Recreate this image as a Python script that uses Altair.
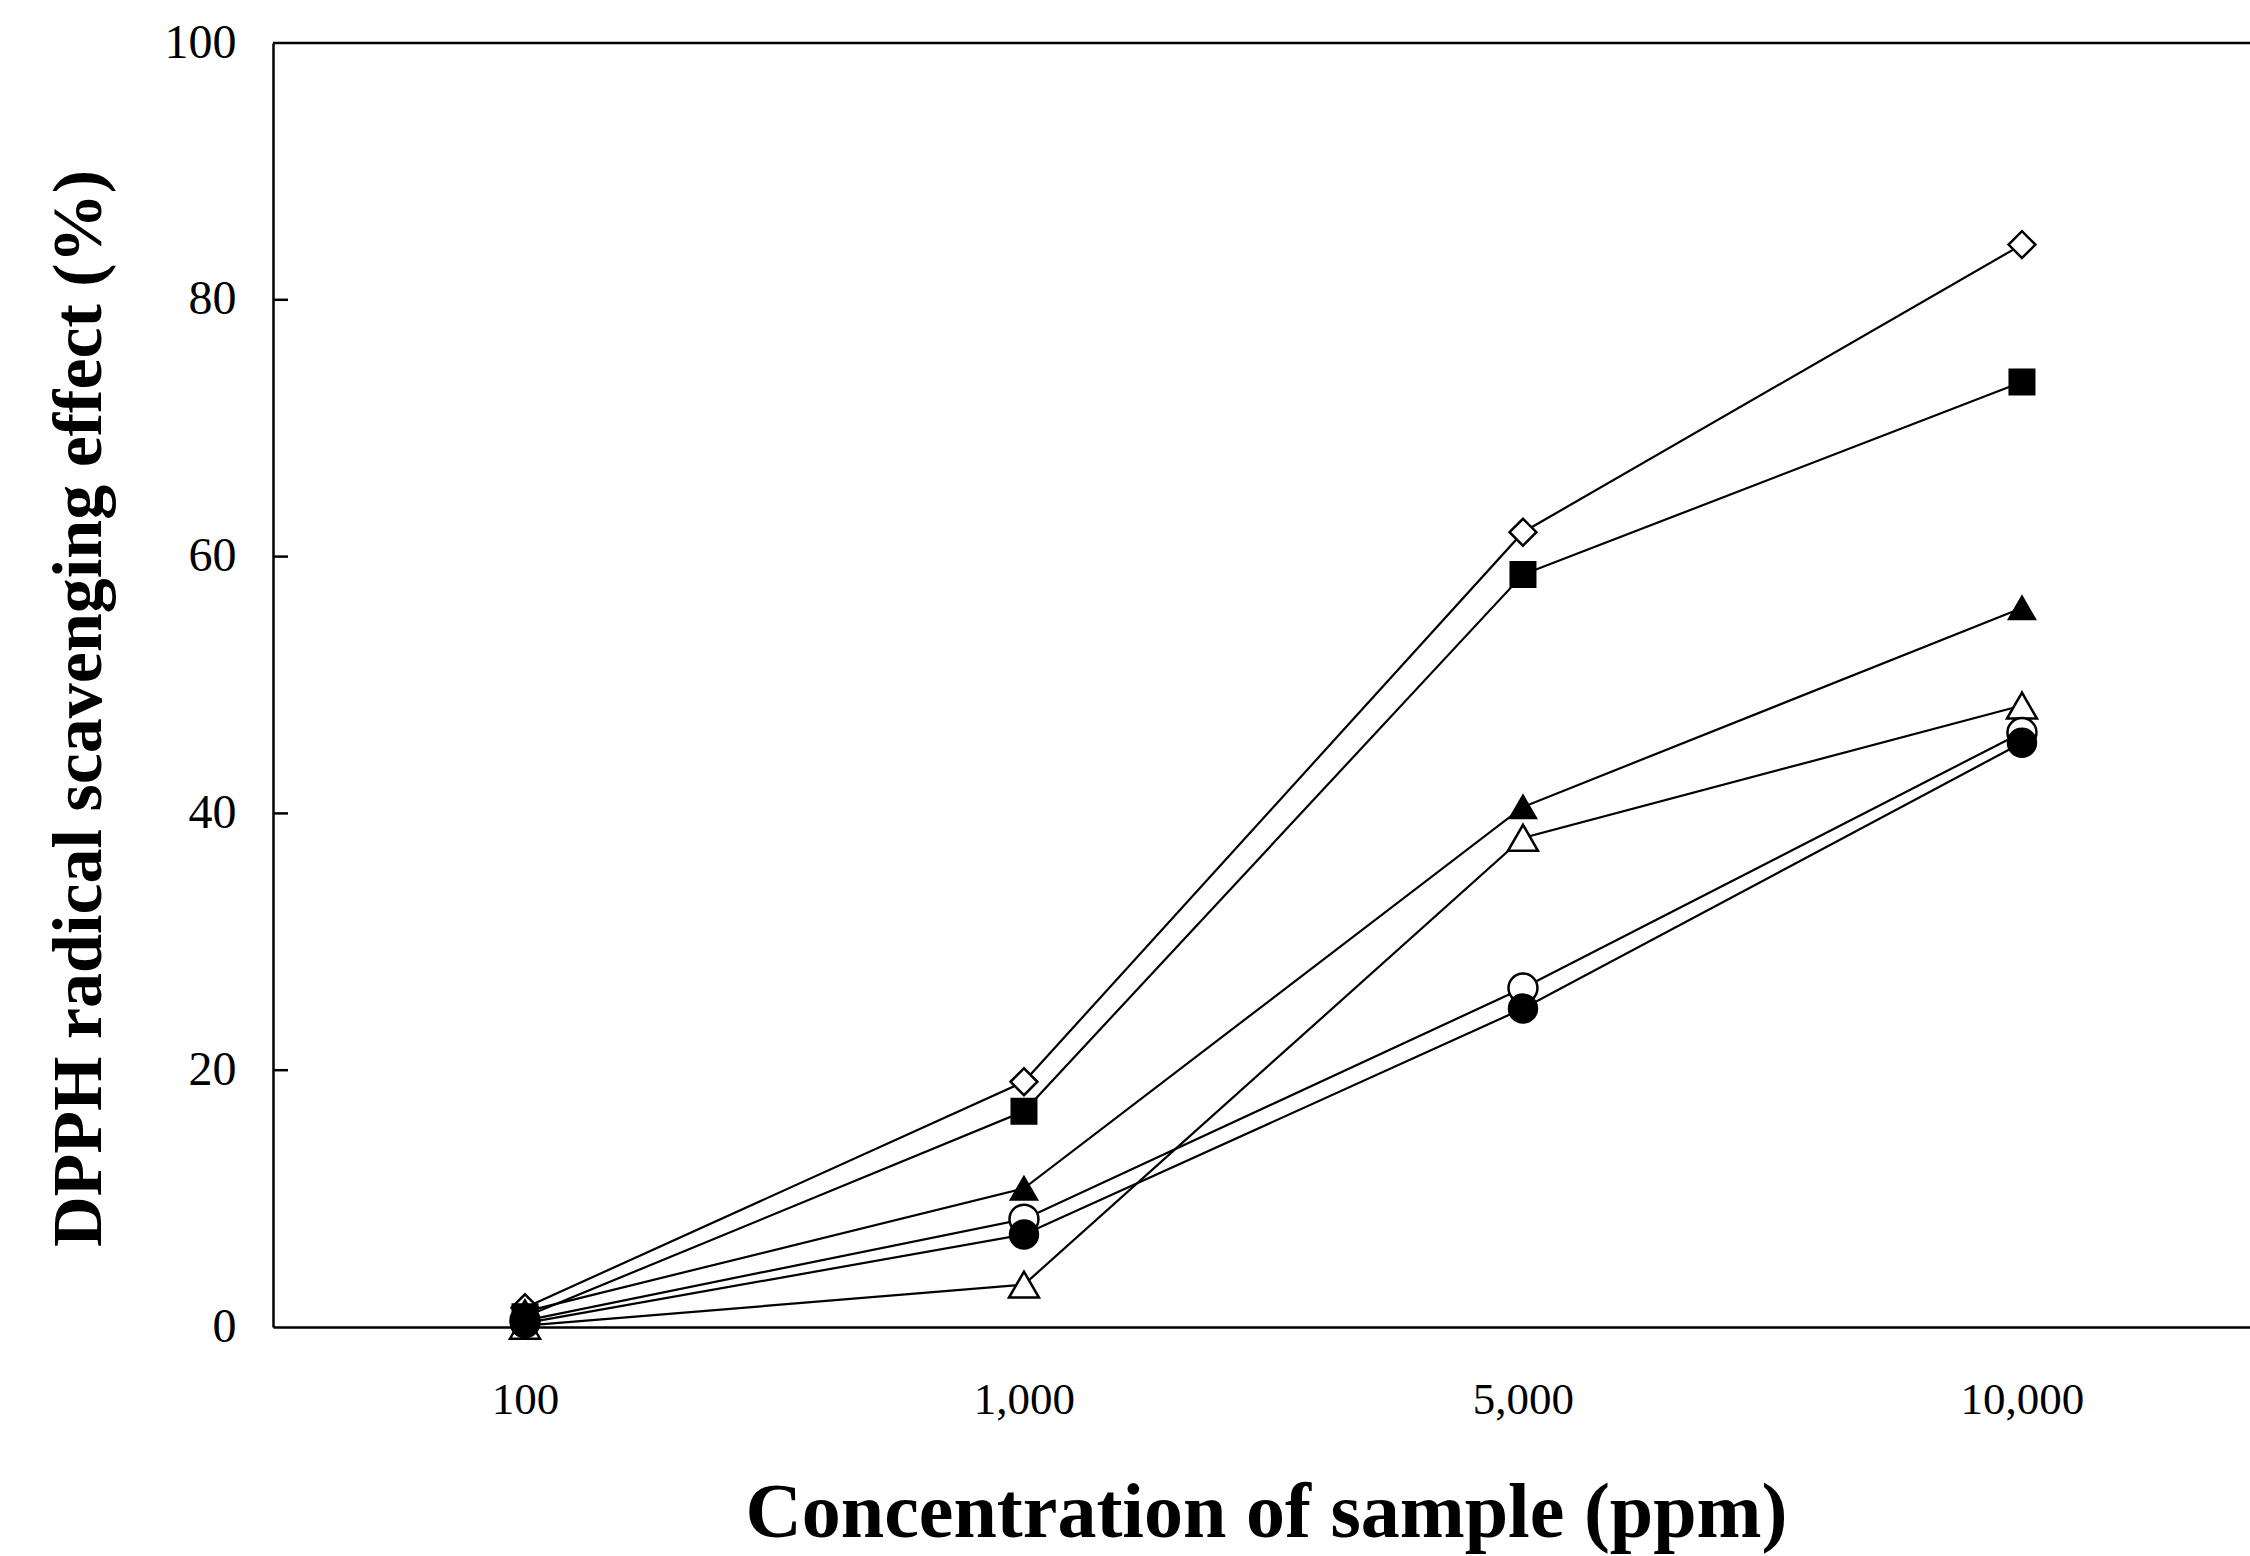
import json
import altair as alt
import pandas as pd

# ---- data ----
conc_labels = ["100", "1,000", "5,000", "10,000"]
conc_idx = [0, 1, 2, 3]

series_names = ["open_triangle", "open_circle", "filled_circle", "open_diamond", "filled_triangle", "filled_square"]
open_diamond = [1.5, 19.1, 61.9, 84.3]
filled_square = [0.8, 16.8, 58.6, 73.6]
filled_triangle = [1.2, 10.8, 40.5, 56.0]
open_triangle = [0.1, 3.3, 38.1, 48.4]
open_circle = [0.5, 8.4, 26.4, 46.3]
filled_circle = [0.3, 7.2, 24.8, 45.5]

series_values = {
    "open_triangle": open_triangle,
    "open_circle": open_circle,
    "filled_circle": filled_circle,
    "open_diamond": open_diamond,
    "filled_triangle": filled_triangle,
    "filled_square": filled_square,
}
shapes = ["triangle-up", "circle", "circle", "diamond", "triangle-up", "square"]
fills = ["white", "white", "black", "white", "black", "black"]
sizes = [900, 600, 720, 1000, 1150, 1550]

y_ticks = [0, 20, 40, 60, 80, 100]
inner_ticks = [20, 40, 60, 80]

rows = []
for s in series_names:
    for i, v in zip(conc_idx, series_values[s]):
        rows.append({"series": s, "conc": i, "value": v})
df = pd.DataFrame(rows)

W, H = 1977, 1284
FONT = "Liberation Serif"

x_scale = alt.Scale(domain=[-0.505, 3.457], nice=False, zero=False)
y_scale = alt.Scale(domain=[0, 100], nice=False)

label_expr = json.dumps(conc_labels) + "[datum.value]"

x_axis = alt.Axis(
    values=conc_idx, labelExpr=label_expr, grid=False, ticks=False, tickSize=0,
    domainColor="black", domainWidth=2.5, labelFont=FONT, labelFontSize=45,
    labelColor="black", labelPadding=50, labelBaseline="top",
    title="Concentration of sample (ppm)", titleFont=FONT, titleFontSize=78,
    titleFontWeight="bold", titleColor="black", titleX=993, titleY=209,
    titleAnchor="start", titleAlign="center", titleBaseline="alphabetic",
)
y_axis = alt.Axis(
    values=y_ticks, format="d", grid=False, ticks=False, tickSize=0,
    domainColor="black", domainWidth=2.5, labelFont=FONT, labelFontSize=48,
    labelColor="black", labelPadding=37,
    title="DPPH radical scavenging effect (%)", titleFont=FONT, titleFontSize=70,
    titleFontWeight="bold", titleColor="black", titleX=-194, titleY=665,
    titleAngle=270, titleAlign="center", titleBaseline="middle",
)

base = alt.Chart(df)

lines = base.mark_line(color="black", strokeWidth=2.2).encode(
    x=alt.X("conc:Q", scale=x_scale, axis=x_axis),
    y=alt.Y("value:Q", scale=y_scale, axis=y_axis),
    detail="series:N",
)

points = base.mark_point(filled=True, stroke="black", strokeWidth=2.5, opacity=1).encode(
    x=alt.X("conc:Q", scale=x_scale),
    y=alt.Y("value:Q", scale=y_scale),
    shape=alt.Shape("series:N", scale=alt.Scale(domain=series_names, range=shapes), legend=None),
    fill=alt.Fill("series:N", scale=alt.Scale(domain=series_names, range=fills), legend=None),
    size=alt.Size("series:N", scale=alt.Scale(domain=series_names, range=sizes), legend=None),
    order=alt.Order("order:Q"),
).transform_calculate(
    order="indexof(" + json.dumps(series_names) + ", datum.series)"
)

tick_df = pd.DataFrame({"t": inner_ticks})
ticks = alt.Chart(tick_df).mark_rule(color="black", strokeWidth=2.5).encode(
    y=alt.Y("t:Q", scale=y_scale),
    x=alt.value(0),
    x2=alt.value(15),
)

top_border = alt.Chart(pd.DataFrame({"t": [100]})).mark_rule(color="black", strokeWidth=2.5).encode(
    y=alt.Y("t:Q", scale=y_scale),
    x=alt.value(0),
    x2=alt.value(W),
)

chart = alt.layer(lines, ticks, top_border, points).properties(
    width=W, height=H,
    autosize=alt.AutoSizeParams(type="none"),
    padding={"left": 273, "top": 43, "right": 0, "bottom": 229},
    background="white",
).configure_view(stroke=None)

chart.save("out.html", embed_options={"renderer": "svg", "actions": False})
